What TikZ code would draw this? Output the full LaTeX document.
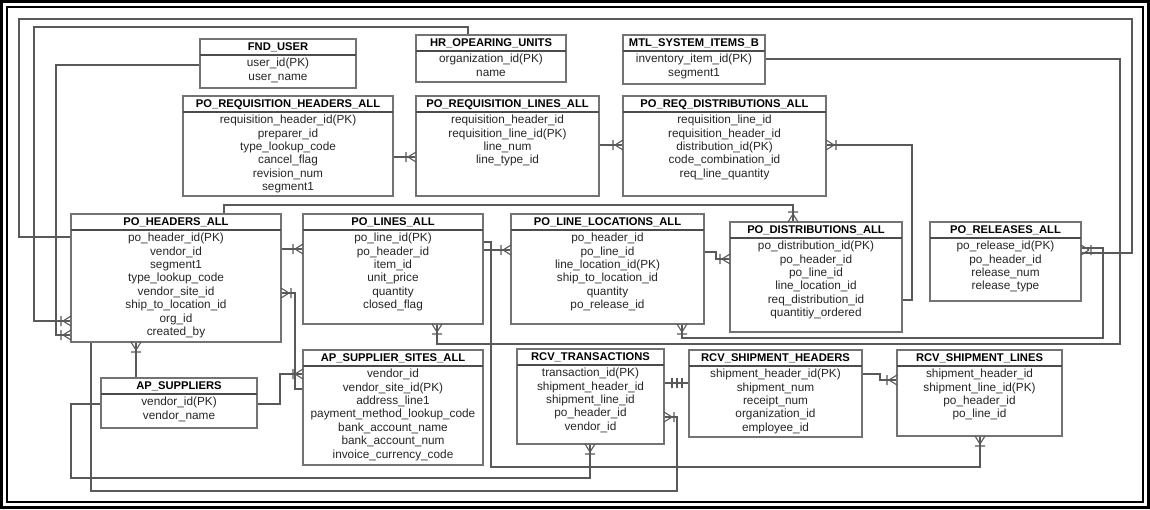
\documentclass[tikz,border=0pt]{standalone}
\usepackage{fontspec}
\setmainfont{Liberation Sans}
\begin{document}
\begin{tikzpicture}[x=1pt,y=-1pt,
  ebox/.style={draw=black!55,line width=1.2pt,inner sep=0,outer sep=0,fill=white},
  eline/.style={draw=black!70,line width=1.2pt},
  etitle/.style={font=\fontsize{11.2}{12}\selectfont\bfseries,inner sep=0},
  erows/.style={font=\fontsize{11.8}{13.4}\selectfont,align=center,inner sep=0,text=black!85},
  con/.style={draw=black!65,line width=1.1pt},
  crowst/.style={draw=black!65,line width=1.1pt}]
\useasboundingbox (0,0) rectangle (1150,509);
\fill[white] (0,0) rectangle (1150,509);
\draw[line width=3pt] (1.5,1.5) rectangle (1148.5,507.5);
\draw[line width=2pt] (7,7) rectangle (1143,502);
\newcommand\ent[7]{%
  \node[ebox,minimum width={(#4-#2)*1pt},minimum height={(#5-#3)*1pt},anchor=north west] (#1) at (#2,#3) {};
  \draw[eline] (#2,#3+16)--(#4,#3+16);
  \node[etitle] (#1-t) at ({(#2+#4)/2},#3+8.5) {#6};
  \node[erows,anchor=north] (#1-r) at ({(#2+#4)/2},#3+19) {#7};}
\newcommand\crow[2]{%
  \begin{scope}[shift={#1},rotate=#2]
  \draw[crowst] (8,0)--(0,-5) (8,0)--(0,5) (10,-5)--(10,5);
  \end{scope}}
% connectors (behind boxes)
\draw[con] (234,237) -- (19,237) -- (19,19) -- (1132,19) -- (1132,253) -- (1081,253);
\draw[con] (468,35) -- (468,27) -- (34,27) -- (34,321) -- (71,321);
\draw[con] (200,65) -- (56,65) -- (56,335) -- (71,335);
\draw[con] (765,59) -- (1120,59) -- (1120,344) -- (437,344) -- (437,324);
\draw[con] (682,324) -- (682,338) -- (1103,338) -- (1103,248) -- (1081,248);
\draw[con] (224,214) -- (224,205) -- (793,205) -- (793,222);
\draw[con] (393,157) -- (416,157);
\draw[con] (599,145) -- (623,145);
\draw[con] (826,145) -- (912,145) -- (912,300) -- (902,300);
\draw[con] (281,249) -- (303,249);
\draw[con] (483,250) -- (511,250);
\draw[con] (483,242) -- (491,242) -- (491,467) -- (980,467) -- (980,436);
\draw[con] (704,252) -- (716,252) -- (716,259) -- (730,259);
\draw[con] (136,378) -- (136,342);
\draw[con] (257,404) -- (280,404) -- (280,374) -- (303,374);
\draw[con] (303,389) -- (295,389) -- (295,293) -- (281,293);
\draw[con] (101,404) -- (71,404) -- (71,478) -- (590,478) -- (590,444);
\draw[con] (91,342) -- (91,491) -- (677,491) -- (677,417) -- (664,417);
\draw[con] (664,383) -- (689,383);
\draw[con] (862,374) -- (880,374) -- (880,380) -- (897,380);
% entities
\ent{fnd}{200}{39}{356}{88}{FND\_USER}{user\_id(PK)\\user\_name}
\ent{hr}{416}{35}{566}{82}{HR\_OPEARING\_UNITS}{organization\_id(PK)\\name}
\ent{mtl}{623}{35}{765}{84}{MTL\_SYSTEM\_ITEMS\_B}{inventory\_item\_id(PK)\\segment1}
\ent{rqh}{183}{96}{393}{196}{PO\_REQUISITION\_HEADERS\_ALL}{requisition\_header\_id(PK)\\preparer\_id\\type\_lookup\_code\\cancel\_flag\\revision\_num\\segment1}
\ent{rql}{416}{96}{599}{196}{PO\_REQUISITION\_LINES\_ALL}{requisition\_header\_id\\requisition\_line\_id(PK)\\line\_num\\line\_type\_id}
\ent{rqd}{623}{96}{826}{196}{PO\_REQ\_DISTRIBUTIONS\_ALL}{requisition\_line\_id\\requisition\_header\_id\\distribution\_id(PK)\\code\_combination\_id\\req\_line\_quantity}
\ent{poh}{71}{214}{281}{342}{PO\_HEADERS\_ALL}{po\_header\_id(PK)\\vendor\_id\\segment1\\type\_lookup\_code\\vendor\_site\_id\\ship\_to\_location\_id\\org\_id\\created\_by}
\ent{pol}{303}{214}{483}{324}{PO\_LINES\_ALL}{po\_line\_id(PK)\\po\_header\_id\\item\_id\\unit\_price\\quantity\\closed\_flag}
\ent{pll}{511}{214}{704}{324}{PO\_LINE\_LOCATIONS\_ALL}{po\_header\_id\\po\_line\_id\\line\_location\_id(PK)\\ship\_to\_location\_id\\quantity\\po\_release\_id}
\ent{pod}{730}{222}{902}{332}{PO\_DISTRIBUTIONS\_ALL}{po\_distribution\_id(PK)\\po\_header\_id\\po\_line\_id\\line\_location\_id\\req\_distribution\_id\\quantitiy\_ordered}
\ent{por}{930}{222}{1081}{301}{PO\_RELEASES\_ALL}{po\_release\_id(PK)\\po\_header\_id\\release\_num\\release\_type}
\ent{aps}{101}{378}{257}{428}{AP\_SUPPLIERS}{vendor\_id(PK)\\vendor\_name}
\ent{ass}{303}{350}{483}{465}{AP\_SUPPLIER\_SITES\_ALL}{vendor\_id\\vendor\_site\_id(PK)\\address\_line1\\payment\_method\_lookup\_code\\bank\_account\_name\\bank\_account\_num\\invoice\_currency\_code}
\ent{rct}{517}{349}{664}{444}{RCV\_TRANSACTIONS}{transaction\_id(PK)\\shipment\_header\_id\\shipment\_line\_id\\po\_header\_id\\vendor\_id}
\ent{rsh}{689}{350}{862}{437}{RCV\_SHIPMENT\_HEADERS}{shipment\_header\_id(PK)\\shipment\_num\\receipt\_num\\organization\_id\\employee\_id}
\ent{rsl}{897}{350}{1062}{436}{RCV\_SHIPMENT\_LINES}{shipment\_header\_id\\shipment\_line\_id(PK)\\po\_header\_id\\po\_line\_id}
% crow feet
\crow{(416,157)}{180}
\crow{(623,145)}{180}
\crow{(826,145)}{0}
\crow{(303,249)}{180}
\crow{(511,250)}{180}
\crow{(730,259)}{180}
\crow{(793,222)}{90}
\crow{(1081,250)}{0}
\crow{(71,321)}{180}
\crow{(71,335)}{180}
\crow{(281,293)}{0}
\crow{(136,342)}{-90}
\crow{(437,324)}{-90}
\crow{(682,324)}{-90}
\crow{(303,374)}{180}
\crow{(590,444)}{-90}
\crow{(664,417)}{0}
\crow{(897,380)}{180}
\crow{(980,436)}{-90}
\draw[crowst] (672,378)--(672,388) (677,378)--(677,388) (682,378)--(682,388);
\end{tikzpicture}
\end{document}
